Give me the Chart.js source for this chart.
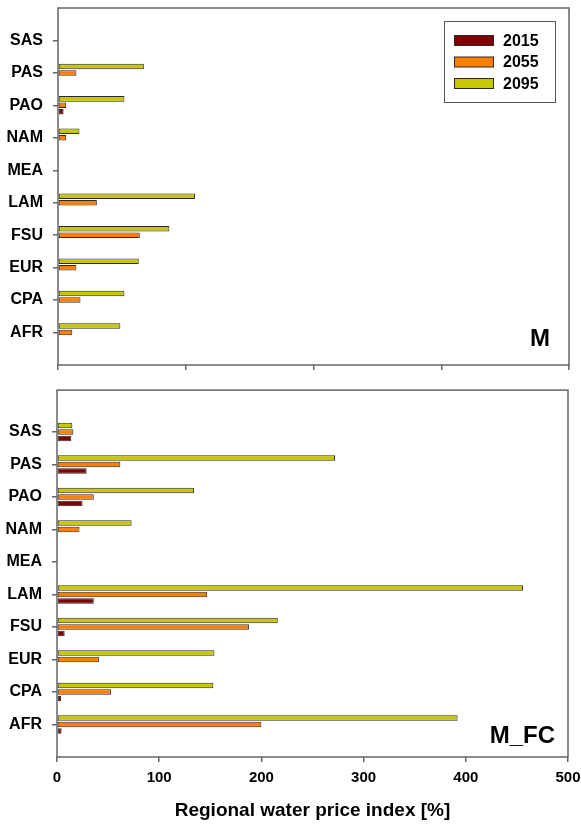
<!DOCTYPE html>
<html>
<head>
<meta charset="utf-8">
<script src="https://cdn.jsdelivr.net/npm/chart.js@4/dist/chart.umd.min.js"></script>
<style>
  html, body { margin: 0; padding: 0; background: #ffffff; }
  #wrap { position: relative; width: 581px; height: 825px; overflow: hidden; }
  canvas { position: absolute; left: 0; }
  #c1 { top: -20px; }
  #c2 { top: 380px; }
</style>
</head>
<body>
<div id="wrap">
  <canvas id="c1" width="600" height="405" style="width:600px;height:405px"></canvas>
  <canvas id="c2" width="600" height="445" style="width:600px;height:445px"></canvas>
</div>
<script>
// ---- data ----
const categories = ['SAS', 'PAS', 'PAO', 'NAM', 'MEA', 'LAM', 'FSU', 'EUR', 'CPA', 'AFR'];
const years = ['2015', '2055', '2095'];
const yearColors = ['#7f0000', '#ff7f00', '#c8c800'];
// panel "M"
const m2015 = [null, null, 5.5, null, null, null, null, null, null, null];
const m2055 = [null, 18, 8, 8, null, 38, 80, 18, 22, 14];
const m2095 = [null, 84, 65, 21, null, 134, 109, 79, 65, 61];
// panel "M_FC"
const fc2015 = [14, 29, 25, null, null, 36, 7.5, null, 4, 4.5];
const fc2055 = [16, 62, 36, 22, null, 147, 188, 41, 53, 200];
const fc2095 = [15, 272, 134, 73, null, 456, 216, 154, 153, 392];
const xAxisTitle = 'Regional water price index [%]';
const panelNames = ['M', 'M_FC'];

const FONT = "'Liberation Sans', Arial, Helvetica, sans-serif";
const padArr = a => [null, ...a, null];
const padLabels = ['', ...categories, ''];
const lastIdx = padLabels.length - 1;

function makeDatasets(v2015, v2055, v2095) {
  // dataset order top-to-bottom inside a group: 2095, 2055, 2015
  const vals = [v2015, v2055, v2095];
  return [2, 1, 0].map(i => ({
    label: years[i],
    data: padArr(vals[i]),
    backgroundColor: yearColors[i],
    borderColor: '#2a2a2a',
    borderWidth: 1,
    borderSkipped: false,
    categoryPercentage: 0.6,
    barPercentage: 0.85
  }));
}

function framePlugin(extraTop, name, nameX, nameY, withLegend) {
  return {
    id: 'frame' + name,
    afterDraw(chart) {
      const ctx = chart.ctx;
      const a = chart.chartArea;
      ctx.save();
      ctx.strokeStyle = '#666';
      ctx.lineWidth = 1.5;
      ctx.strokeRect(a.left, a.top - extraTop, a.right - a.left, a.bottom - a.top + extraTop);
      // panel name (coordinates relative to chart area)
      ctx.fillStyle = '#000';
      ctx.font = 'bold 24px ' + FONT;
      ctx.textAlign = 'right';
      ctx.textBaseline = 'alphabetic';
      ctx.fillText(name, a.right - nameX, a.bottom - nameY);
      if (withLegend) {
        const lx = a.right - 124.5, ly = a.top + 13.5;
        ctx.lineWidth = 1;
        ctx.strokeStyle = '#555';
        ctx.fillStyle = '#fff';
        ctx.fillRect(lx, ly, 111, 81);
        ctx.strokeRect(lx, ly, 111, 81);
        const ds = chart.data.datasets.slice().reverse();
        const rowY = [19, 40.5, 62];
        ds.forEach((d, i) => {
          ctx.fillStyle = d.backgroundColor;
          ctx.fillRect(lx + 10, ly + rowY[i] - 5, 39, 10);
          ctx.strokeStyle = '#2a2a2a';
          ctx.strokeRect(lx + 10, ly + rowY[i] - 5, 39, 10);
          ctx.fillStyle = '#000';
          ctx.font = 'bold 16px ' + FONT;
          ctx.textAlign = 'left';
          ctx.textBaseline = 'middle';
          ctx.fillText(d.label, lx + 58.5, ly + rowY[i] + 1);
        });
      }
      ctx.restore();
    }
  };
}

function yScale(width) {
  return {
    offset: false,
    grid: {
      offset: false,
      drawOnChartArea: false,
      drawTicks: true,
      tickLength: 5,
      lineWidth: 1.5,
      color: c => (c.index === 0 || c.index === lastIdx) ? 'rgba(0,0,0,0)' : '#666'
    },
    border: { display: false },
    ticks: { padding: 10, color: '#000', font: { family: FONT, size: 16, weight: 'bold' }, autoSkip: false },
    afterFit: s => { s.width = width; }
  };
}

// ---- top panel (M) ----
new Chart(document.getElementById('c1'), {
  type: 'bar',
  data: { labels: padLabels, datasets: makeDatasets(m2015, m2055, m2095) },
  options: {
    indexAxis: 'y',
    responsive: false,
    animation: false,
    devicePixelRatio: 1,
    layout: { padding: { top: 28, right: 31, left: 0, bottom: 0 } },
    plugins: { legend: { display: false }, tooltip: { enabled: false } },
    scales: {
      x: {
        type: 'linear', min: 0, max: 500,
        ticks: { stepSize: 125, display: false },
        grid: { drawOnChartArea: false, drawTicks: true, tickLength: 5, color: '#666', lineWidth: 1.5 },
        border: { display: false },
        afterFit: s => { s.height = 20; }
      },
      y: yScale(58)
    }
  },
  plugins: [framePlugin(0, panelNames[0], 19, 19, true)]
});

// ---- bottom panel (M_FC) ----
new Chart(document.getElementById('c2'), {
  type: 'bar',
  data: { labels: padLabels, datasets: makeDatasets(fc2015, fc2055, fc2095) },
  options: {
    indexAxis: 'y',
    responsive: false,
    animation: false,
    devicePixelRatio: 1,
    layout: { padding: { top: 19.5, right: 32, left: 0, bottom: 0 } },
    plugins: { legend: { display: false }, tooltip: { enabled: false } },
    scales: {
      x: {
        type: 'linear', min: 0, max: 500,
        ticks: { stepSize: 100, padding: 7, color: '#000', font: { family: FONT, size: 15, weight: 'bold' } },
        grid: { drawOnChartArea: false, drawTicks: true, tickLength: 5, color: '#666', lineWidth: 1.5 },
        border: { display: false },
        title: { display: true, text: xAxisTitle, color: '#000', font: { family: FONT, size: 19, weight: 'bold' }, padding: { top: 0, bottom: 3 } },
        afterFit: s => { s.height = 68; }
      },
      y: yScale(57)
    }
  },
  plugins: [framePlugin(9.5, panelNames[1], 13, 14, false)]
});
</script>
</body>
</html>
